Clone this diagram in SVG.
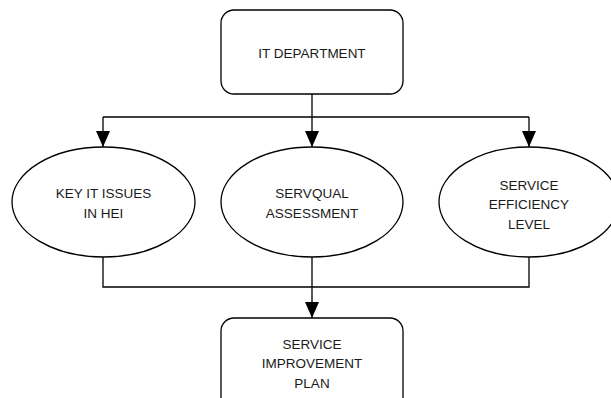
<svg xmlns="http://www.w3.org/2000/svg" width="611" height="398" viewBox="0 0 611 398">
<defs>
<style>
.n{fill:#fff;stroke:#000;stroke-width:1.3}
.t{font-family:"Liberation Sans",Arial,sans-serif;font-size:13.5px;fill:#1a1a1a;text-anchor:middle}
.c{fill:none;stroke:#000;stroke-width:1.3}
</style>
<marker id="ah" viewBox="0 0 16 14" refX="16" refY="7" markerWidth="16" markerHeight="14" markerUnits="userSpaceOnUse" orient="auto">
<path d="M0,0 L16,7 L0,14 Z" fill="#000"/>
</marker>
</defs>
<g id="connectors">
<path class="c" d="M312,94 V117"/>
<path class="c" d="M103,117 H529"/>
<path class="c" d="M103,117 V147" marker-end="url(#ah)"/>
<path class="c" d="M312,117 V147" marker-end="url(#ah)"/>
<path class="c" d="M529,117 V147" marker-end="url(#ah)"/>
<path class="c" d="M103,257 V287 H529 V257"/>
<path class="c" d="M312,257 V318" marker-end="url(#ah)"/>
</g>
<g id="it-department">
<rect class="n" x="221" y="10" width="182" height="84" rx="13"/>
<text class="t" x="312" y="58">IT DEPARTMENT</text>
</g>
<g id="key-it-issues">
<ellipse class="n" cx="103.5" cy="202" rx="91.5" ry="55"/>
<text class="t" x="103.5" y="198">KEY IT ISSUES</text>
<text class="t" x="103.5" y="218">IN HEI</text>
</g>
<g id="servqual">
<ellipse class="n" cx="312" cy="202" rx="91" ry="55"/>
<text class="t" x="312" y="198">SERVQUAL</text>
<text class="t" x="312" y="218">ASSESSMENT</text>
</g>
<g id="service-efficiency">
<ellipse class="n" cx="529" cy="202" rx="90" ry="55"/>
<text class="t" x="529" y="190">SERVICE</text>
<text class="t" x="529" y="209">EFFICIENCY</text>
<text class="t" x="529" y="229">LEVEL</text>
</g>
<g id="service-improvement-plan">
<rect class="n" x="221" y="318" width="182" height="100" rx="13"/>
<text class="t" x="312" y="349">SERVICE</text>
<text class="t" x="312" y="368">IMPROVEMENT</text>
<text class="t" x="312" y="388">PLAN</text>
</g>
</svg>
